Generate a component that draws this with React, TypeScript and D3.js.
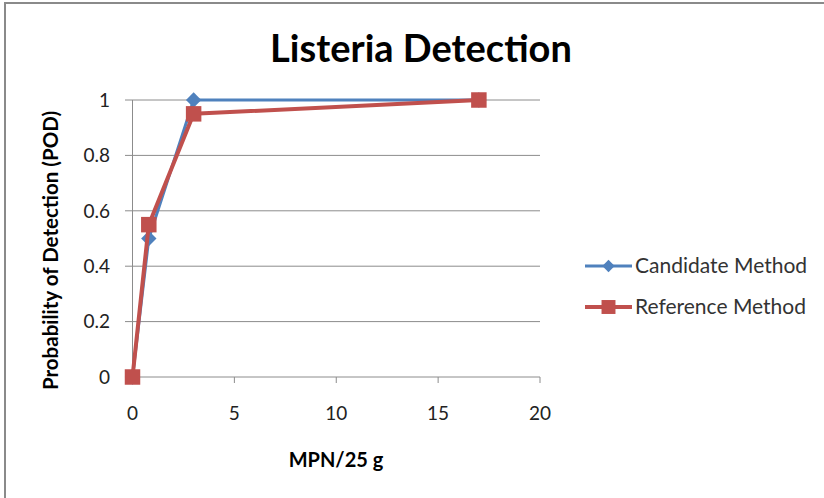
import * as d3 from 'd3'

const W = 824, H = 498
const FONT = 'Lato, "Open Sans", sans-serif'

const xTicks = [0, 5, 10, 15, 20]
const yTicks = [0, 0.2, 0.4, 0.6, 0.8, 1]

const mpn = [0, 0.8, 3, 17]
const candidate = [0, 0.5, 1, 1]
const reference = [0, 0.55, 0.95, 1]

const BLUE = '#4f81bd'
const RED = '#c0504d'

export default function App() {
  const x = d3.scaleLinear().domain([0, 20]).range([132.5, 540])
  const y = d3.scaleLinear().domain([0, 1]).range([377, 100])

  const line = d3.line<number>()
    .x((_, i) => x(mpn[i]))
    .y(d => y(d))

  const diamond = d3.symbol().type(d3.symbolDiamond2).size(150)()
  const square = d3.symbol().type(d3.symbolSquare).size(240)()

  return (
    <svg width={W} height={H} style={{ position: 'absolute', left: 0, top: 0, background: '#fff' }}
      fontFamily={FONT}>
      <rect x={5} y={3} width={W + 10} height={H + 10} fill="none" stroke="#8a8a8a" strokeWidth={2} />

      <text x={421} y={62} textAnchor="middle" fontSize={38} fontWeight="bold" fill="#000">
        Listeria Detection
      </text>

      {/* grid */}
      {yTicks.map(t => (
        <g key={t}>
          <line x1={125} x2={540} y1={y(t)} y2={y(t)} stroke="#8c8c8c" strokeWidth={1} />
          <text x={110} y={y(t)} dy="0.36em" textAnchor="end" fontSize={19} fill="#222">
            {String(+t.toFixed(1))}
          </text>
        </g>
      ))}
      <line x1={x(0)} x2={x(0)} y1={y(1)} y2={y(0)} stroke="#8c8c8c" strokeWidth={1} />
      {xTicks.map(t => (
        <g key={t}>
          <line x1={x(t)} x2={x(t)} y1={y(0)} y2={y(0) + 6} stroke="#8c8c8c" strokeWidth={1} />
          <text x={x(t)} y={420} textAnchor="middle" fontSize={19} fill="#222">{t}</text>
        </g>
      ))}

      <text transform={`translate(58,${(y(0) + y(1)) / 2 + 12}) rotate(-90)`} textAnchor="middle"
        fontSize={20.5} fontWeight="bold" fill="#000">Probability of Detection (POD)</text>
      <text x={336} y={467} textAnchor="middle" fontSize={20} fontWeight="bold" fill="#000">MPN/25 g</text>

      {/* series */}
      <path d={line(candidate)!} fill="none" stroke={BLUE} strokeWidth={3} strokeLinejoin="round" />
      {candidate.map((v, i) => (
        <path key={i} d={diamond!} transform={`translate(${x(mpn[i])},${y(v)})`} fill={BLUE} />
      ))}
      <path d={line(reference)!} fill="none" stroke={RED} strokeWidth={4} strokeLinejoin="round" />
      {reference.map((v, i) => (
        <path key={i} d={square!} transform={`translate(${x(mpn[i])},${y(v)})`} fill={RED} />
      ))}

      {/* legend */}
      <g transform="translate(585,266)">
        <line x1={0} x2={47} stroke={BLUE} strokeWidth={3} />
        <path d={diamond!} transform="translate(23.5,0) scale(0.8)" fill={BLUE} />
        <text x={50} dy="0.35em" fontSize={21} fill="#333">Candidate Method</text>
      </g>
      <g transform="translate(585,307)">
        <line x1={0} x2={47} stroke={RED} strokeWidth={4} />
        <path d={square!} transform="translate(23.5,0) scale(0.9)" fill={RED} />
        <text x={50} dy="0.35em" fontSize={21} fill="#333">Reference Method</text>
      </g>
    </svg>
  )
}
